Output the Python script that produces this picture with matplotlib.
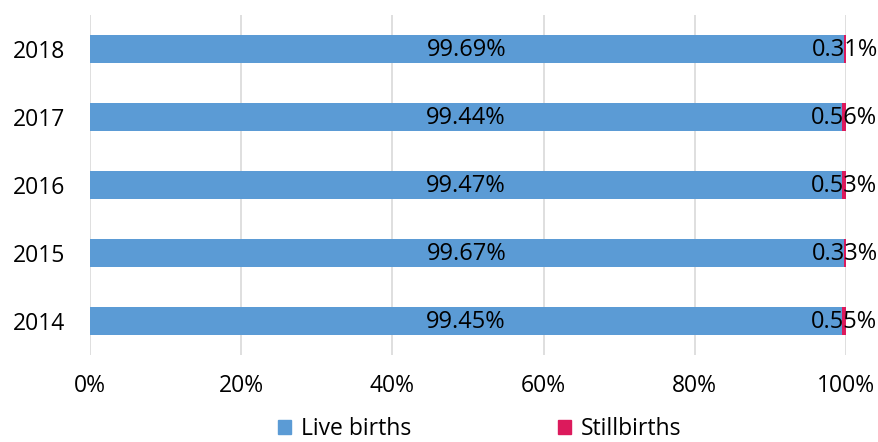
import matplotlib.pyplot as plt
from matplotlib.ticker import PercentFormatter
from matplotlib.patches import Patch

# ── Data ──────────────────────────────────────────────────────────────────────
years = ["2014", "2015", "2016", "2017", "2018"]
live_births = [99.45, 99.67, 99.47, 99.44, 99.69]
stillbirths = [0.55, 0.33, 0.53, 0.56, 0.31]

BLUE = "#5B9BD5"
PINK = "#DC1A5C"
FS = 16.5

plt.rcParams["font.family"] = ["Open Sans", "DejaVu Sans"]

fig = plt.figure(figsize=(8.79, 4.42), dpi=100)
ax = fig.add_axes([90 / 879, 1 - 355 / 442, (846 - 90) / 879, 340 / 442])

y = range(len(years))
ax.barh(y, live_births, height=0.41, color=BLUE, zorder=2)
ax.barh(y, stillbirths, left=live_births, height=0.41, color=PINK, zorder=2)

for i in y:
    ax.text(live_births[i] / 2, i - 0.02, f"{live_births[i]:.2f}%", ha="center",
            va="center", fontsize=FS + 0.5, color="black", zorder=3)
    ax.text(live_births[i] + stillbirths[i] / 2, i - 0.02, f"{stillbirths[i]:.2f}%",
            ha="center", va="center", fontsize=FS + 0.5, color="black", zorder=3)

ax.set_xlim(0, 100)
ax.set_ylim(-0.5, len(years) - 0.5)
ax.set_xticks([0, 20, 40, 60, 80, 100])
ax.xaxis.set_major_formatter(PercentFormatter(decimals=0))
ax.set_yticks(list(y))
ax.set_yticklabels(years)
ax.tick_params(axis="both", length=0, labelsize=FS, colors="black")
ax.tick_params(axis="x", pad=14)
ax.tick_params(axis="y", pad=18)
ax.grid(True, axis="x", color="#D9D9D9", linewidth=1.2, zorder=0)
for s in ax.spines.values():
    s.set_visible(False)

handles = [Patch(color=BLUE, label="Live births"),
           Patch(color=PINK, label="Stillbirths")]
fig.legend(handles=handles, loc="lower center", ncol=2, frameon=False,
           fontsize=FS, handlelength=0.55, handleheight=0.55,
           handletextpad=0.45, columnspacing=6.4, bbox_to_anchor=(0.546, -0.045))

fig.savefig("out.png", dpi=100)
